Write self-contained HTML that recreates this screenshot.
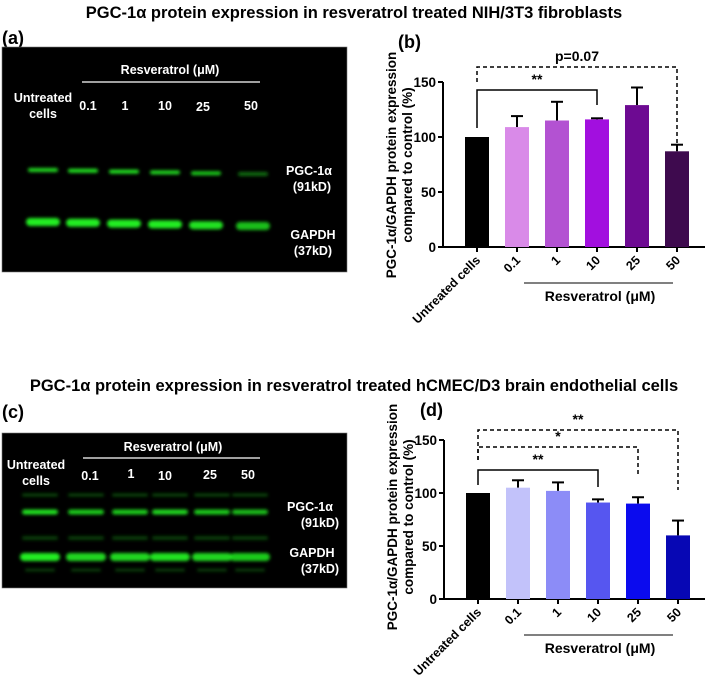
<!DOCTYPE html>
<html><head><meta charset="utf-8"><style>
body{margin:0;background:#fff;}
svg{display:block;font-family:"Liberation Sans",Arial,sans-serif;font-weight:bold;}
</style></head><body>
<svg id="fig" width="708" height="679" viewBox="0 0 708 679" xmlns="http://www.w3.org/2000/svg">
<defs>
<filter id="blur" x="-20%" y="-100%" width="140%" height="300%"><feGaussianBlur stdDeviation="1.6"/></filter>
</defs>
<text x="354" y="18" font-size="16.5" text-anchor="middle">PGC-1α protein expression in resveratrol treated NIH/3T3 fibroblasts</text>
<text x="354" y="391" font-size="16.5" text-anchor="middle">PGC-1α protein expression in resveratrol treated hCMEC/D3 brain endothelial cells</text>
<text x="2" y="44" font-size="18">(a)</text>
<text x="398" y="48" font-size="18">(b)</text>
<text x="2" y="418" font-size="18">(c)</text>
<text x="420" y="416" font-size="18">(d)</text>

<g id="blotA">
<rect x="2" y="47" width="345" height="225" fill="#000" stroke="#777" stroke-width="0.6"/>
<g fill="#fff" font-size="12.5" text-anchor="middle">
<text x="170" y="74">Resveratrol (μM)</text>
<text x="43" y="102">Untreated</text><text x="43" y="118">cells</text>
<text x="88" y="110">0.1</text><text x="125" y="110">1</text><text x="165" y="110">10</text><text x="203" y="111">25</text><text x="251" y="110">50</text>
<text x="309" y="175">PGC-1α</text><text x="312" y="191">(91kD)</text>
<text x="313" y="239">GAPDH</text><text x="313" y="255">(37kD)</text>
</g>
<line x1="82" y1="82" x2="260" y2="82" stroke="#fff" stroke-width="1.2"/>
<g id="bandsA" filter="url(#blur)"></g>
</g>

<g id="blotC">
<rect x="2" y="433" width="345" height="155" fill="#000" stroke="#777" stroke-width="0.6"/>
<g fill="#fff" font-size="12.5" text-anchor="middle">
<text x="173" y="451">Resveratrol (μM)</text>
<text x="36" y="469">Untreated</text><text x="36" y="485">cells</text>
<text x="90" y="480">0.1</text><text x="131" y="478">1</text><text x="165" y="480">10</text><text x="210" y="479">25</text><text x="248" y="479">50</text>
<text x="310" y="511">PGC-1α</text><text x="320" y="527">(91kD)</text>
<text x="312" y="557">GAPDH</text><text x="320" y="573">(37kD)</text>
</g>
<line x1="83" y1="458" x2="260" y2="458" stroke="#fff" stroke-width="1.2"/>
<g id="bandsC" filter="url(#blur)"></g>
</g>

<g id="chartB"></g>
<g id="chartD"></g>
</svg>
<script>
const categories = ["Untreated cells","0.1","1","10","25","50"];
const valuesB = [100,109,115,116,129,87];
const errorsB = [0,10,17,1,16,6];
const colorsB = ["#000000","#d98ae8","#b352d2","#a20fdf","#6d0a92","#3e0a4e"];
const valuesD = [100,105,102,91,90,60];
const errorsD = [0,7,8,3,6,14];
const colorsD = ["#000000","#c2c2fa","#8c8cf7","#5656f0","#0b0bee","#0707b4"];
const yTicks = [0,50,100,150];
const bandA_pgc = [0.9,0.95,0.95,0.9,0.85,0.45];
const bandA_gapdh = [1,1,1,1,0.95,0.8];
const bandC_pgc = [0.95,0.85,0.85,0.9,0.85,0.8];
const bandC_gapdh = [1,0.9,0.9,0.95,0.9,0.85];

const NS="http://www.w3.org/2000/svg";
function mk(parent,tag,attrs,text){const e=document.createElementNS(NS,tag);for(const k in attrs)e.setAttribute(k,attrs[k]);if(text!==undefined)e.textContent=text;parent.appendChild(e);return e;}

function bands(gid,xs,y,vals,w,h,tilt){
  const g=document.getElementById(gid);
  vals.forEach((v,i)=>{
    const r=mk(g,'rect',{x:xs[i]-w/2,y:y+i*tilt-h/2,width:w,height:h,rx:h/2,fill:'#22ee22','fill-opacity':v});
    
    
  });
}
bands('bandsA',[43,83,124,165,206,253],170,bandA_pgc,30,4,0.8);
bands('bandsA',[43,83,124,165,206,253],222,bandA_gapdh,34,8,0.8);
bands('bandsC',[40,86,130,170,212,250],512,bandC_pgc,36,5,0);
bands('bandsC',[40,86,130,170,212,250],557,bandC_gapdh,40,8,0);
bands('bandsC',[40,86,130,170,212,250],495,[0.3,0.3,0.3,0.3,0.3,0.3],36,3,0);
bands('bandsC',[40,86,130,170,212,250],538,[0.25,0.25,0.25,0.25,0.25,0.25],36,4,0);
bands('bandsC',[40,86,130,170,212,250],570,[0.25,0.25,0.25,0.25,0.25,0.25],30,3,0);

function chart(gid,cfg,vals,errs,cols,brackets){
  const g=document.getElementById(gid);
  const y=v=>cfg.y0-v*cfg.k;
  const x=i=>cfg.x0+i*40;
  mk(g,'line',{x1:cfg.ax,y1:y(150),x2:cfg.ax,y2:cfg.y0,stroke:'#000','stroke-width':2});
  mk(g,'line',{x1:cfg.ax,y1:cfg.y0,x2:705,y2:cfg.y0,stroke:'#000','stroke-width':2});
  yTicks.forEach(t=>{
    mk(g,'line',{x1:cfg.ax-5,y1:y(t),x2:cfg.ax,y2:y(t),stroke:'#000','stroke-width':2});
    const tx=mk(g,'text',{x:cfg.ax-7,y:y(t)+5,'font-size':13.5,'text-anchor':'end'},t);
    
    
  });
  vals.forEach((v,i)=>{
    const xc=x(i);
    if(errs[i]>0){
      mk(g,'line',{x1:xc,y1:y(v),x2:xc,y2:y(v+errs[i]),stroke:'#000','stroke-width':2});
      mk(g,'line',{x1:xc-6,y1:y(v+errs[i]),x2:xc+6,y2:y(v+errs[i]),stroke:'#000','stroke-width':2});
    }
    const b=mk(g,'rect',{x:xc-12,y:y(v),width:24,height:cfg.y0-y(v),fill:cols[i]});
    
    
    mk(g,'line',{x1:xc,y1:cfg.y0,x2:xc,y2:cfg.y0+5,stroke:'#000','stroke-width':2});
    const tl=mk(g,'text',{x:xc+4,y:cfg.y0+14,'font-size':12.5,'text-anchor':'end',transform:`rotate(-45 ${xc+4} ${cfg.y0+14})`},categories[i]);
    
    
  });
  mk(g,'line',{x1:524,y1:cfg.y0+36,x2:673,y2:cfg.y0+36,stroke:'#000','stroke-width':1});
  const xt=mk(g,'text',{x:600,y:cfg.y0+54,'font-size':14,'text-anchor':'middle'},'Resveratrol (μM)');
  
  
  const cy=cfg.y0-82;
  const yt=mk(g,'text',{'font-size':13.5,'text-anchor':'middle',transform:`translate(${cfg.ax-47} ${cy}) rotate(-90)`});
  
  
  mk(yt,'tspan',{x:0,y:0},'PGC-1α/GAPDH protein expression');
  mk(yt,'tspan',{x:0,y:16},'compared to control  (%)');
  brackets.forEach(br=>{
    const p=mk(g,'path',{d:`M${x(br.a)} ${br.ya} V${br.y} H${x(br.b)} V${br.yb}`,fill:'none',stroke:'#000','stroke-width':1.5,'stroke-dasharray':br.dash?'4 3':'none'});
    
    
    const t=mk(g,'text',{x:(x(br.a)+x(br.b))/2,y:br.y-6,'font-size':14,'text-anchor':'middle'},br.label);
    
    
  });
}
chart('chartB',{ax:443,y0:247,k:1.1,x0:477},valuesB,errorsB,colorsB,[
  {a:0,b:3,y:90,ya:128,yb:105,dash:false,label:'**'},
  {a:0,b:5,y:67,ya:82,yb:143,dash:true,label:'p=0.07'}]);
chart('chartD',{ax:444,y0:599,k:1.06,x0:478},valuesD,errorsD,colorsD,[
  {a:0,b:3,y:470,ya:485,yb:487,dash:false,label:'**'},
  {a:0,b:4,y:447,ya:460,yb:477,dash:true,label:'*'},
  {a:0,b:5,y:430,ya:460,yb:490,dash:true,label:'**'}]);
</script>
</body></html>
